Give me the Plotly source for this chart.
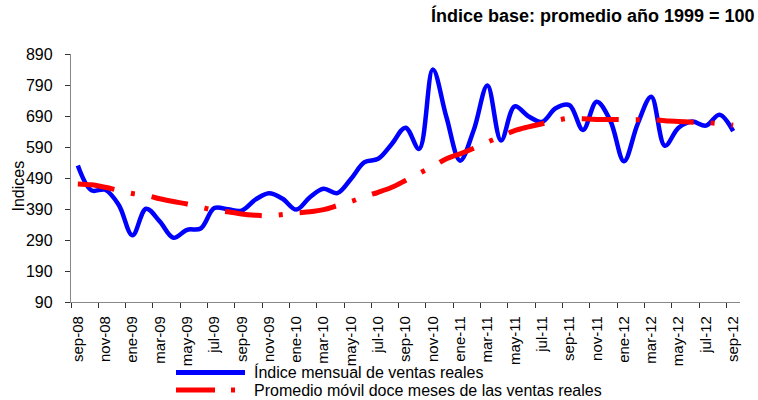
import plotly.graph_objects as go

months = ["sep-08", "oct-08", "nov-08", "dic-08",
          "ene-09", "feb-09", "mar-09", "abr-09", "may-09", "jun-09", "jul-09", "ago-09", "sep-09", "oct-09", "nov-09", "dic-09",
          "ene-10", "feb-10", "mar-10", "abr-10", "may-10", "jun-10", "jul-10", "ago-10", "sep-10", "oct-10", "nov-10", "dic-10",
          "ene-11", "feb-11", "mar-11", "abr-11", "may-11", "jun-11", "jul-11", "ago-11", "sep-11", "oct-11", "nov-11", "dic-11",
          "ene-12", "feb-12", "mar-12", "abr-12", "may-12", "jun-12", "jul-12", "ago-12", "sep-12"]

indice_mensual = [530, 450, 452, 403, 305, 391, 350, 297, 323, 327, 393, 389, 385, 420, 441, 423,
                  388, 428, 455, 441, 487, 541, 552, 600, 652, 584, 840, 686,
                  546, 645, 788, 611, 721, 689, 671, 715, 725, 645, 736, 675,
                  544, 664, 752, 594, 652, 672, 659, 694, 641]

promedio_movil = [471, 468, 460, 450, 440, 434, 423, 414, 406, 396, 386, 381, 374, 370, 368, 372,
                  377, 381, 388, 401, 414, 430, 444, 460, 482, 505, 527, 552,
                  568, 586, 606, 624, 643, 655, 665, 675, 683, 681, 679, 679,
                  678, 678, 678, 675, 672, 670, 669, 665, 660]

y_ticks = [90, 190, 290, 390, 490, 590, 690, 790, 890]

serie_1 = "Índice mensual de ventas reales"
serie_2 = "Promedio móvil doce meses de las ventas reales"
titulo = "Índice base: promedio año 1999 = 100"
eje_y = "Indices"

FONT = "Arial, Liberation Sans, sans-serif"
W, H = 758, 400
X0, X1, Y0, Y1 = 71, 740, 54, 302  # plot area in page pixels
ML, MT = X0, Y0
PW, PH = X1 - X0, Y1 - Y0
MR, MB = W - ML - PW, H - MT - PH


def px_x(x):
    return (x - X0) / PW


def px_y(y):
    return (Y1 - y) / PH


x = list(range(len(months)))

fig = go.Figure()
fig.add_trace(go.Scatter(
    x=x, y=indice_mensual, mode="lines", name=serie_1, showlegend=False,
    line=dict(color="#0000FF", width=4.5, shape="spline", smoothing=1),
))
fig.add_trace(go.Scatter(
    x=x, y=promedio_movil, mode="lines", name=serie_2, showlegend=False,
    line=dict(color="#FF0000", width=5, shape="spline", smoothing=1, dash="37px,17px,4px,17px"),
))

# custom legend keys
fig.add_shape(type="line", xref="paper", yref="paper",
              x0=px_x(176), x1=px_x(245), y0=px_y(372.5), y1=px_y(372.5),
              line=dict(color="#0000FF", width=5))
fig.add_shape(type="line", xref="paper", yref="paper",
              x0=px_x(176), x1=px_x(238), y0=px_y(390), y1=px_y(390),
              line=dict(color="#FF0000", width=5, dash="39px,16px,4px,16px"))
fig.add_annotation(text=serie_1, xref="paper", yref="paper", x=px_x(252), y=px_y(372),
                   xanchor="left", yanchor="middle", showarrow=False,
                   font=dict(family=FONT, size=16, color="#000"))
fig.add_annotation(text=serie_2, xref="paper", yref="paper", x=px_x(252), y=px_y(390),
                   xanchor="left", yanchor="middle", showarrow=False,
                   font=dict(family=FONT, size=16, color="#000"))
# title
fig.add_annotation(text="<b>" + titulo + "</b>", xref="paper", yref="paper",
                   x=px_x(757), y=px_y(16), xanchor="right", yanchor="middle", showarrow=False,
                   font=dict(family=FONT, size=18, color="#000"))
# y axis title
fig.add_annotation(text=eje_y, xref="paper", yref="paper", x=px_x(17.5), y=px_y(186),
                   xanchor="center", yanchor="middle", textangle=-90, showarrow=False,
                   font=dict(family=FONT, size=16, color="#000"))

fig.update_layout(
    width=W, height=H,
    margin=dict(l=ML, r=MR, t=MT, b=MB, pad=0),
    paper_bgcolor="white", plot_bgcolor="white",
    font=dict(family=FONT, color="#000"),
    showlegend=False,
    xaxis=dict(
        range=[-0.5, len(months) - 0.5],
        tickmode="array", tickvals=x[::2], ticktext=months[::2],
        tickangle=-90, ticks="", showgrid=False, zeroline=False,
        showline=True, linecolor="#888", linewidth=1.3,
        tickfont=dict(family=FONT, size=15, color="#000"),
        ticklabelstandoff=7,
        minor=dict(tickmode="linear", tick0=-0.5, dtick=2, ticks="outside",
                   ticklen=5, tickcolor="#333", tickwidth=1.3, showgrid=False),
    ),
    yaxis=dict(
        range=[90, 890], tickmode="array", tickvals=y_ticks,
        ticks="outside", ticklen=5, tickcolor="#333", tickwidth=1.3,
        showgrid=False, zeroline=False,
        showline=True, linecolor="#888", linewidth=1.3,
        tickfont=dict(family=FONT, size=16, color="#000"),
        ticklabelstandoff=9,
    ),
)

fig.write_html("out.html", config={"displayModeBar": False},
               post_script="document.body.style.margin='0';document.body.style.overflow='hidden';")
